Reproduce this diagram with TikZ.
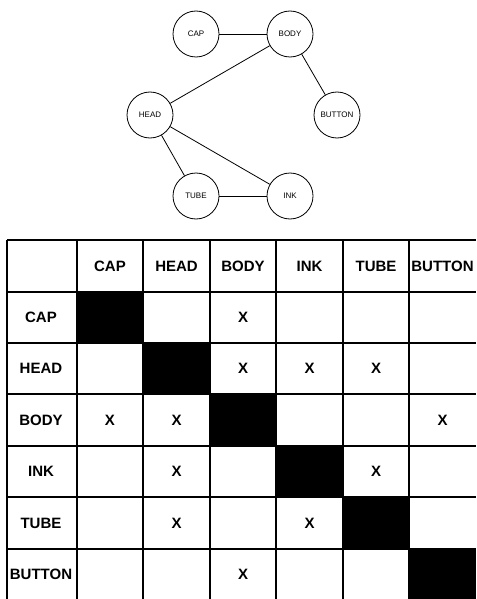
\documentclass[tikz,border=0pt]{standalone}
\usepackage{fontspec}
\setmainfont{Liberation Sans}
\begin{document}
\begin{tikzpicture}[x=1pt,y=-1pt,
  part/.style={draw, circle, minimum size=46pt, inner sep=0pt, line width=0.8pt,
               font=\fontsize{8}{9}\selectfont},
  link/.style={line width=0.8pt},
  rule/.style={line width=2pt},
  label/.style={font=\bfseries\fontsize{15}{17}\selectfont, inner sep=0pt},
]
\useasboundingbox (0,0) rectangle (476,599);

% --- component graph ---
\node[part] (cap)    at (196,34)  {CAP};
\node[part] (body)   at (290,34)  {BODY};
\node[part] (head)   at (150,115) {HEAD};
\node[part] (button) at (337,115) {BUTTON};
\node[part] (tube)   at (196,196) {TUBE};
\node[part] (ink)    at (290,196) {INK};

\draw[link] (cap) -- (body);
\draw[link] (body) -- (head);
\draw[link] (body) -- (button);
\draw[link] (head) -- (tube);
\draw[link] (head) -- (ink);
\draw[link] (tube) -- (ink);

% --- adjacency matrix ---
% diagonal cells
\foreach \xa/\xb/\ya/\yb in {77/143/292/343, 143/210/343/394, 210/276/394/446,
                             276/343/446/497, 343/409/497/549, 409/476/549/600}
  \fill (\xa,\ya) rectangle (\xb,\yb);

% grid rules
\foreach \x in {7,77,143,210,276,343,409}
  \draw[rule] (\x,240) -- (\x,600);
\foreach \y in {240,292,343,394,446,497,549}
  \draw[rule] (7,\y) -- (476,\y);

% header row
\foreach \name/\x in {CAP/110, HEAD/176.5, BODY/243, INK/309.5, TUBE/376, BUTTON/442.5}
  \node[label] (col-\name) at (\x,266) {\name};

% header column
\foreach \name/\y in {CAP/317.5, HEAD/368.5, BODY/420, INK/471.5, TUBE/523, BUTTON/574.5}
  \node[label] (row-\name) at (41,\y) {\name};

% connections
\foreach \id/\x/\y in {a/243/317.5,
                       b/243/368.5, c/309.5/368.5, d/376/368.5,
                       e/110/420, f/176.5/420, g/442.5/420,
                       h/176.5/471.5, i/376/471.5,
                       j/176.5/523, k/309.5/523,
                       l/243/574.5}
  \node[label] (mark-\id) at (\x,\y) {X};
\end{tikzpicture}
\end{document}
